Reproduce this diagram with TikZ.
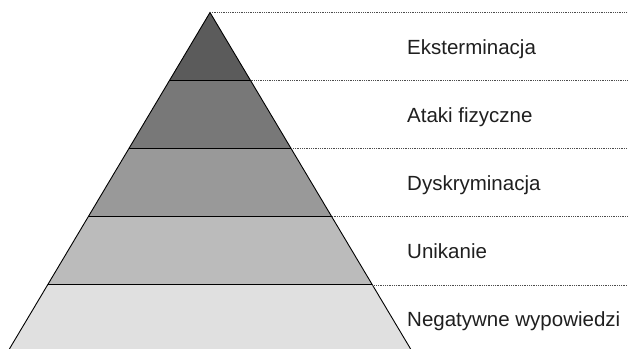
\documentclass[tikz,border=0pt]{standalone}
\usepackage{fontspec}
\setmainfont{Liberation Sans}
\begin{document}
\begin{tikzpicture}[x=1pt,y=-1pt,
  band/.style={draw=black,line width=0.9pt,line join=miter},
  guide/.style={draw=black!70,line width=0.7pt,dash pattern=on 0.9pt off 0.9pt},
  lbl/.style={anchor=base west,inner sep=0pt,text=black!88,font=\fontsize{20.5}{24}\selectfont}]
\useasboundingbox (0,0) rectangle (628,348);
% level coordinates
\coordinate (A)  at (210,12.5);
\coordinate (L1) at (169.4,80.6);  \coordinate (R1) at (250.6,80.6);
\coordinate (L2) at (128.8,148.7); \coordinate (R2) at (291.2,148.7);
\coordinate (L3) at (88.2,216.8);  \coordinate (R3) at (331.8,216.8);
\coordinate (L4) at (47.6,284.9);  \coordinate (R4) at (372.4,284.9);
\coordinate (L5) at (7.0,353);     \coordinate (R5) at (413.0,353);
% right ends of guides
\coordinate (E0) at (628,12.5);
\coordinate (E1) at (628,80.6);
\coordinate (E2) at (628,148.7);
\coordinate (E3) at (628,216.8);
\coordinate (E4) at (628,284.9);
% bands
\fill[fill={rgb,255:red,224;green,224;blue,224}] (L4) -- (R4) -- (R5) -- (L5) -- cycle;
\fill[fill={rgb,255:red,187;green,187;blue,187}] (L3) -- (R3) -- (R4) -- (L4) -- cycle;
\fill[fill={rgb,255:red,153;green,153;blue,153}] (L2) -- (R2) -- (R3) -- (L3) -- cycle;
\fill[fill={rgb,255:red,120;green,120;blue,120}] (L1) -- (R1) -- (R2) -- (L2) -- cycle;
\fill[fill={rgb,255:red,91;green,91;blue,91}] (A) -- (R1) -- (L1) -- cycle;
\draw[band] (L5) -- (A) -- (R5);
\draw[band] (L1) -- (R1);
\draw[band] (L2) -- (R2);
\draw[band] (L3) -- (R3);
\draw[band] (L4) -- (R4);
% guides
\draw[guide] (A) -- (E0);
\draw[guide] (R1) -- (E1);
\draw[guide] (R2) -- (E2);
\draw[guide] (R3) -- (E3);
\draw[guide] (R4) -- (E4);
% labels
\node[lbl] (t1) at (407,54.0) {Eksterminacja};
\node[lbl] (t2) at (407,122.1) {Ataki fizyczne};
\node[lbl] (t3) at (407,190.2) {Dyskryminacja};
\node[lbl] (t4) at (407,258.3) {Unikanie};
\node[lbl] (t5) at (407,326.4) {Negatywne wypowiedzi};
\end{tikzpicture}
\end{document}
